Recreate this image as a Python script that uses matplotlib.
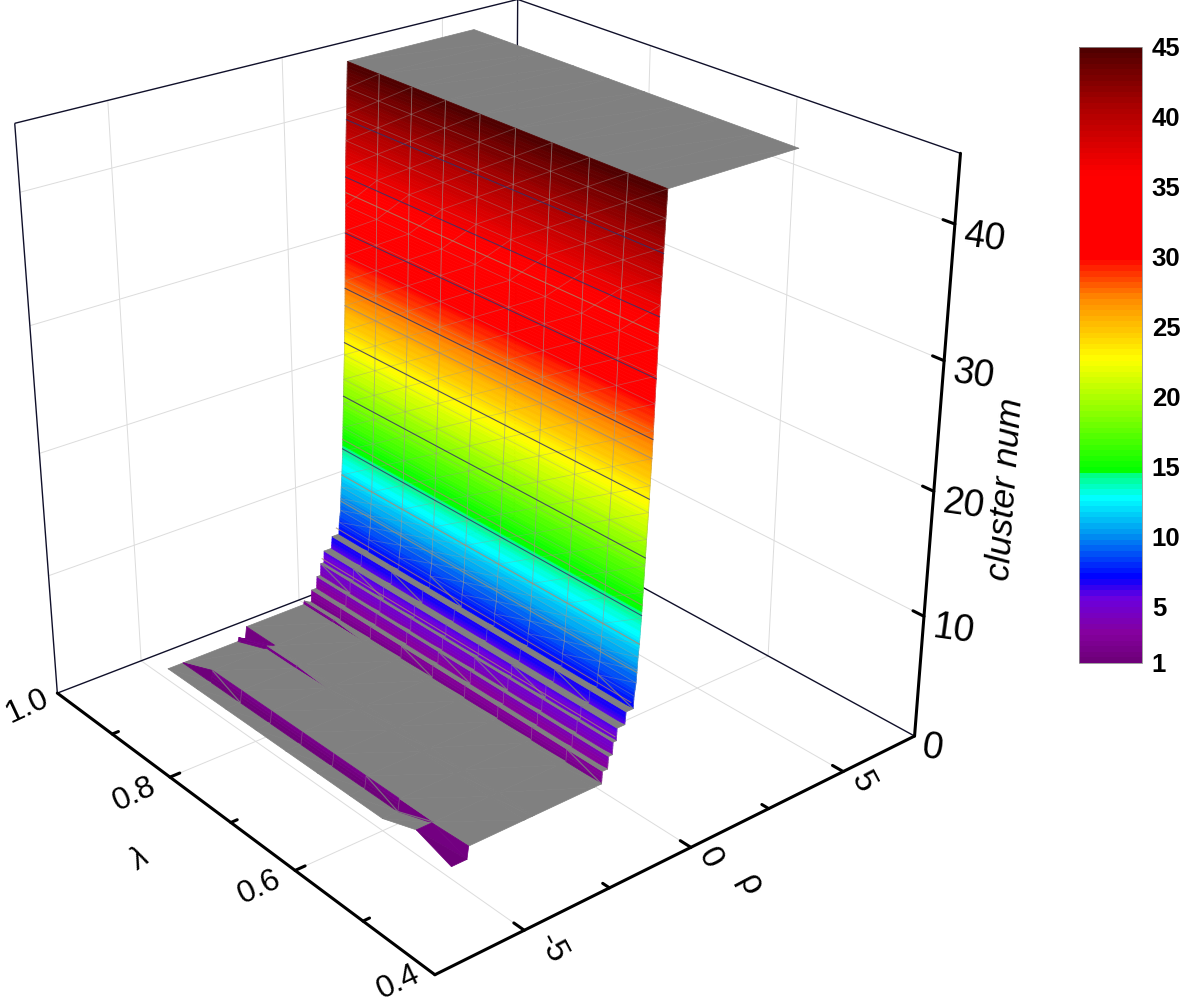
import numpy as np
import matplotlib
matplotlib.use('Agg')
import matplotlib.pyplot as plt
from matplotlib.cm import ScalarMappable
from matplotlib.colors import LinearSegmentedColormap, Normalize
from mpl_toolkits.mplot3d.art3d import Line3DCollection, Poly3DCollection

plt.rcParams['font.family'] = ['Liberation Sans', 'DejaVu Sans']

W, H = 1181, 1008

# surface
lam = np.array([0.5, 0.55, 0.6, 0.65, 0.7, 0.75, 0.8, 0.85, 0.9, 0.95])
rho_low = np.array([-5.0, -4.55, -4.5, -2.85, -2.82, -2.62, -2.57, -0.75, -0.73, -0.55])
z_low = np.array([
    [1, 2, 1, 1, 1, 1, 1, 1, 1, 1],
    [1, 2, 1, 1, 1, 1, 1, 1, 1, 1],
    [2, 2, 2, 2, 2, 2, 2, 2, 2, 1],
    [2, 2, 2, 2, 2, 2, 2, 2, 2, 1],
    [2, 2, 2, 2, 2, 2, 2, 2.25, 2.25, 1.3],
    [2, 2, 2, 2, 2, 2, 2, 2, 2, 1],
    [2, 2, 2, 2, 2, 2, 2, 2, 2, 2],
    [2, 2, 2, 2, 2, 2, 2, 2, 2, 2],
    [2, 2, 2, 2, 2, 2, 2, 2, 2.3, 2.3],
    [2, 2, 2, 2, 2, 2, 2, 2, 2, 2],
], float)
rho_stairs = [-0.5, -0.48, -0.32, -0.3, -0.18, -0.165, -0.065, -0.05, 0.19, 0.22, 0.44, 0.46]
z_stairs = [2, 3, 3, 4, 4, 5, 5, 6, 6, 7, 7, 8]
rho_wall = [0.51, 0.53, 0.55, 0.58, 0.62, 0.65, 0.68, 0.71, 0.745, 0.77, 0.80, 0.82, 0.84,
            0.86, 0.88, 0.91, 0.94, 0.97, 1.0, 1.03, 5.0]
z_wall = [9, 10, 11, 12, 14, 16, 18, 20, 22, 24, 26, 28, 30, 32, 34, 37, 39, 41, 43, 45, 45]
dark_levels = [14.2, 18.6, 23.0, 27.4, 31.8, 36.2, 40.6]
tan_levels = [5.4, 7.6, 9.8, 12.0, 15.0, 26.0, 35.0]

# axes
rho_range = (-7.5, 7.5)
lam_range = (0.4, 1.0)
z_range = (0, 45)
rho_major = [-5, 0, 5]
rho_minor = [-2.5, 2.5]
lam_major = [0.4, 0.6, 0.8, 1.0]
lam_minor = [0.5, 0.7, 0.9]
z_major = [0, 10, 20, 30, 40]
cbar_ticks = [1, 5, 10, 15, 20, 25, 30, 35, 40, 45]

# colour levels of the legend bar
cmap_z = [1, 3, 5.5, 7, 10, 12.7, 14.4, 14.6, 19, 22.7, 27, 30, 36, 41, 45]
cmap_colors = ['#6e007a', '#85009f', '#6a00e0', '#0000ff', '#0090f0', '#00ffff', '#00ff80', '#00ff00',
               '#90ff00', '#ffff00', '#ff8c00', '#ff0000', '#ff0000', '#a80000', '#500000']

GREY = '#808080'
norm = Normalize(1, 45)
cmap = LinearSegmentedColormap.from_list(
    'cluster', [((z - 1) / 44, c) for z, c in zip(cmap_z, cmap_colors)], N=110)

# camera: where the box corners fall on the picture
corner_data = [(-7.5, 1.0, 0), (-7.5, 0.4, 0), (7.5, 0.4, 0), (7.5, 1.0, 0),
               (-7.5, 1.0, 45), (7.5, 1.0, 45), (7.5, 0.4, 45)]
corner_px = [(57, 694), (435, 974), (914, 737), (515, 516), (15, 123), (517, 0), (961, 153)]


def fit_camera():
    A, b = [], []
    for (X, Y, Z), (u, v) in zip(corner_data, corner_px):
        A.append([X, Y, Z, 1, 0, 0, 0, 0, -u * X, -u * Y, -u * Z])
        A.append([0, 0, 0, 0, X, Y, Z, 1, -v * X, -v * Y, -v * Z])
        b += [u, v]
    p = np.linalg.lstsq(np.array(A, float), np.array(b, float), rcond=None)[0]
    return np.append(p, 1).reshape(3, 4)


P = fit_camera()


def to_px(x, y, z):
    h = P @ np.array([x, y, z, 1.0])
    return h[:2] / h[2]


fig = plt.figure(figsize=(W / 100, H / 100), dpi=100)
ax = fig.add_axes([0, 0, H / W, 1], projection='3d')
ax.set_axis_off()
ax.computed_zorder = False


def get_proj():
    x0, x1 = ax.viewLim.intervalx
    y0, y1 = ax.viewLim.intervaly
    return np.array([
        (x1 - x0) / H * P[0] + x0 * P[2],
        y1 * P[2] - (y1 - y0) / H * P[1],
        [0, 0, 0, -1.0],
        P[2],
    ])


ax.get_proj = get_proj

rho = np.concatenate([rho_low, rho_stairs, rho_wall])
z = np.vstack([z_low,
               np.tile(np.array(z_stairs, float)[:, None], (1, len(lam))),
               np.tile(np.array(z_wall, float)[:, None], (1, len(lam)))])

polys, colors, mesh, mesh_riser = [], [], [], []
forced = {(0, 0)}


def add_tri(pts, cell):
    pts = np.array(pts)
    span = pts[:, 2].max() - pts[:, 2].min()
    width = pts[:, 0].max() - pts[:, 0].min()
    polys.append(pts)
    if span == 0 or (span / max(width, 1e-6) < 3 and cell not in forced):
        colors.append(GREY)
        return False
    colors.append(cmap(norm(pts[:, 2].mean())))
    return True


for i in range(len(rho) - 1):
    for j in range(len(lam) - 1):
        a = (rho[i], lam[j], z[i, j])
        b = (rho[i], lam[j + 1], z[i, j + 1])
        c = (rho[i + 1], lam[j + 1], z[i + 1, j + 1])
        d = (rho[i + 1], lam[j], z[i + 1, j])
        row_flat = z[i, j] == z[i, j + 1] and z[i + 1, j] == z[i + 1, j + 1]
        rising = z[i + 1, j] > z[i, j]
        if row_flat and rising and rho[i + 1] - rho[i] < 1:
            n = int(np.ceil((z[i + 1, j] - z[i, j]) * 4))
            for k in range(n):
                t0, t1 = k / n, (k + 1) / n
                low = np.array(a) + t0 * (np.array(d) - np.array(a))
                low2 = np.array(b) + t0 * (np.array(c) - np.array(b))
                up2 = np.array(b) + t1 * (np.array(c) - np.array(b))
                up = np.array(a) + t1 * (np.array(d) - np.array(a))
                polys.append(np.array([low, low2, up2, up]))
                colors.append(cmap(norm((low[2] + up[2]) / 2)))
            mesh.append([a, d])
            if z[i + 1, j] <= 8:
                if (i + 2 * j) % 5 == 0:
                    mesh_riser.append([a, c])
            else:
                mesh.append([b, c])
                mesh.append([b, d])
                mesh.append([a, b])
        else:
            first = add_tri([a, b, d], (i, j))
            second = add_tri([b, c, d], (i, j))
            if first and second and i < 3 and j % 2:
                mesh_riser.append([b, d])

# grid lines on the floor and the two back walls
grid = []
for r in rho_major:
    grid.append([(r, lam_range[0], 0), (r, lam_range[1], 0)])
    grid.append([(r, lam_range[1], 0), (r, lam_range[1], z_range[1])])
for l in lam_major[1:-1]:
    grid.append([(rho_range[0], l, 0), (rho_range[1], l, 0)])
    grid.append([(rho_range[1], l, 0), (rho_range[1], l, z_range[1])])
for v in z_major[1:]:
    grid.append([(rho_range[0], lam_range[1], v), (rho_range[1], lam_range[1], v)])
    grid.append([(rho_range[1], lam_range[1], v), (rho_range[1], lam_range[0], v)])
ax.add_collection3d(Line3DCollection(grid, colors='#dcdcdc', linewidths=0.7, zorder=1))

# thin box lines
r0, r1 = rho_range
l0, l1 = lam_range
top = z_range[1]
thin = [[(r0, l1, 0), (r0, l1, top)], [(r0, l1, top), (r1, l1, top)], [(r1, l1, top), (r1, l0, top)],
        [(r1, l1, 0), (r1, l1, top)], [(r0, l1, 0), (r1, l1, 0)], [(r1, l1, 0), (r1, l0, 0)]]
ax.add_collection3d(Line3DCollection(thin, colors='#10102a', linewidths=1.0, zorder=2))

ax.add_collection3d(Poly3DCollection(polys, facecolors=colors, edgecolors=colors, linewidths=0.5, zorder=3))
ax.add_collection3d(Line3DCollection(mesh, colors='#9c9a94', linewidths=0.6, alpha=0.4, zorder=4))
ax.add_collection3d(Line3DCollection(mesh_riser, colors=GREY, linewidths=0.9, alpha=0.8, zorder=4))

# level lines across the wall
all_z = np.concatenate([z_stairs, z_wall[:-1]])
all_rho = np.concatenate([rho_stairs, rho_wall[:-1]])
rise = np.where(np.diff(all_z, prepend=all_z[0] - 1) > 0)[0]
for level in tan_levels:
    r = np.interp(level, all_z[rise], all_rho[rise])
    ax.plot([r, r], [lam[0], lam[-1]], [level, level], color='#a88a70', lw=0.8, alpha=0.75, zorder=5)
for level in dark_levels:
    r = np.interp(level, all_z[rise], all_rho[rise])
    ax.plot([r, r], [lam[0], lam[-1]], [level, level], color='#34346a', lw=0.8, alpha=0.85, zorder=5)

# heavy axes with ticks
heavy = [[(r0, l1, 0), (r0, l0, 0)], [(r0, l0, 0), (r1, l0, 0)], [(r1, l0, 0), (r1, l0, top)]]
for l in lam_major[1:-1]:
    heavy.append([(r0, l, 0), (r0 + 0.28, l, 0)])
for l in lam_minor:
    heavy.append([(r0, l, 0), (r0 + 0.18, l, 0)])
for r in rho_major:
    heavy.append([(r, l0, 0), (r, l0 + 0.014, 0)])
for r in rho_minor:
    heavy.append([(r, l0, 0), (r, l0 + 0.009, 0)])
for v in z_major[1:]:
    heavy.append([(r1, l0, v), (r1, l0 + 0.014, v)])
ax.add_collection3d(Line3DCollection(heavy, colors='black', linewidths=2.2, capstyle='round', zorder=6))


def put_text(x, y, z_, dx, dy, s, rot, size, **kw):
    u, v = to_px(x, y, z_)
    ax.text2D((u + dx) / H, 1 - (v + dy) / H, s, transform=ax.transAxes, rotation=rot,
              rotation_mode='anchor', ha='center', va='center', fontsize=size, **kw)


for l in lam_major:
    nudge = {0.4: (-36, 8), 1.0: (-30, 13)}.get(l, (-36, 17))
    put_text(r0, l, 0, nudge[0], nudge[1], f'{l:.1f}', 25, 23)
for r in rho_major:
    put_text(r, l0, 0, 28 if r < 0 else 19, 18 if r < 0 else 11, str(r), -62, 24)
for v in z_major:
    put_text(r1, l0, v, 18 if v == 0 else 29, 12 if v == 0 else 14, str(v), -8, 27)
put_text(r0, 0.7, 0, -91, 38, '\u03bb', 35, 22, style='italic')
put_text(0, l0, 0, 59, 38, '\u03c1', -62, 25)
put_text(r1, l0, 20, 72, -2, 'cluster num', 86, 25.5, style='italic')

# legend bar
cax = fig.add_axes([1079 / W, 1 - 663 / H, 63 / W, 616 / H])
cb = fig.colorbar(ScalarMappable(norm=norm, cmap=cmap), cax=cax, ticks=cbar_ticks)
cb.outline.set_edgecolor('#909090')
cb.outline.set_linewidth(0.6)
cax.tick_params(length=0, pad=7, labelsize=18.5)
for t in cax.get_yticklabels():
    t.set_fontweight('bold')

fig.savefig('out.png', dpi=100)
